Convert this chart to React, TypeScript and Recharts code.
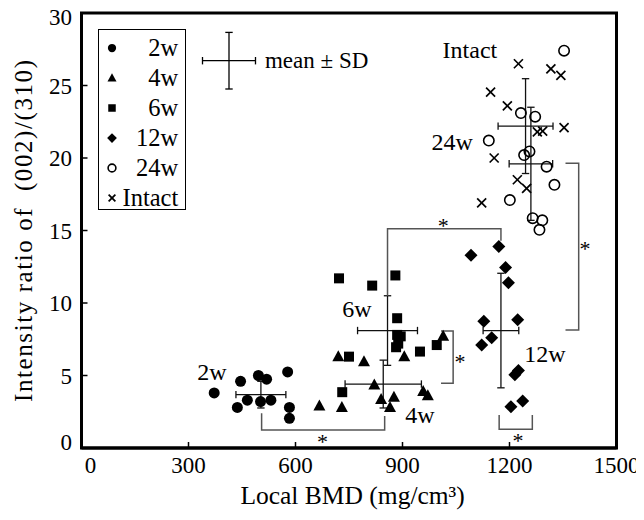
import {
  ScatterChart,
  Scatter,
  XAxis,
  YAxis,
  ErrorBar,
  ReferenceArea,
  Legend,
  Label,
} from "recharts";

const FONT = "'Liberation Serif', 'Times New Roman', serif";

// groups (weeks after implantation + intact bone)
const groups = ["2w", "4w", "6w", "12w", "24w", "Intact"];

const bmd2w = [372, 437, 446, 465, 496, 502, 519, 531, 578, 583, 583];
const ratio2w = [3.8, 2.8, 4.6, 3.3, 5.0, 3.2, 4.75, 3.3, 5.25, 2.8, 2.05];

const bmd4w = [667, 720, 730, 792, 821, 840, 865, 876, 905, 958, 971, 1014];
const ratio4w = [2.9, 6.3, 2.8, 5.95, 4.35, 3.35, 2.8, 3.5, 6.3, 3.9, 3.6, 7.7];

const bmd6w = [722, 731, 750, 815, 880, 882, 885, 885, 888, 895, 949, 996];
const ratio6w = [11.7, 3.85, 6.3, 11.2, 11.9, 6.95, 7.8, 8.95, 7.2, 7.7, 6.65, 7.1];

const bmd12w = [1092, 1122, 1128, 1150, 1170, 1189, 1197, 1204, 1215, 1223, 1225, 1237];
const ratio12w = [13.3, 7.1, 8.75, 7.6, 13.9, 12.45, 11.4, 2.85, 5.05, 8.85, 5.35, 3.25];

const bmd24w = [1142, 1201, 1232, 1241, 1256, 1265, 1272, 1284, 1292, 1304, 1326, 1353];
const ratio24w = [21.2, 17.1, 23.1, 20.2, 20.45, 15.85, 22.85, 15.05, 15.7, 19.4, 18.15, 27.4];

const bmdIntact = [1122, 1147, 1157, 1194, 1222, 1225, 1248, 1278, 1293, 1316, 1344, 1353];
const ratioIntact = [16.9, 24.55, 20.0, 23.6, 18.5, 26.5, 17.9, 21.8, 21.85, 26.15, 25.7, 22.1];

// mean ± SD per group
const meanBmd = [503, 846, 858, 1176, 1260, 1245];
const meanRatio = [3.68, 4.41, 8.1, 8.1, 19.6, 22.2];
const sdBmd = [70, 107, 84, 50, 61, 77];
const sdRatio = [0.92, 1.65, 2.4, 3.95, 3.9, 3.27];

// group tags written in the plot
const tagBmd = [366, 949, 772, 1299, 1039, 1089];
const tagRatio = [5.24, 2.28, 9.59, 6.48, 21.1, 27.45];

// significance brackets (polylines) and their stars
const bracketBmd = [
  [505, 505, 850, 850],
  [1008, 1042, 1042, 1008],
  [858, 858, 1176, 1176],
  [1171, 1171, 1264, 1264],
  [1357, 1394, 1394, 1357],
];
const bracketRatio = [
  [2.4, 1.25, 1.25, 2.2],
  [8.07, 8.07, 4.46, 4.46],
  [10.5, 15.12, 15.12, 14.3],
  [2.28, 1.29, 1.29, 2.28],
  [8.14, 8.14, 19.64, 19.64],
];
const starBmd = [676, 1061, 1014, 1224, 1412];
const starRatio = [0.67, 6.23, 15.6, 0.78, 14.0];

const xTicks = [0, 300, 600, 900, 1200, 1500];
const yTicks = [0, 5, 10, 15, 20, 25, 30];

const rawBmd = [bmd2w, bmd4w, bmd6w, bmd12w, bmd24w, bmdIntact];
const rawRatio = [ratio2w, ratio4w, ratio6w, ratio12w, ratio24w, ratioIntact];

type Kind = "dot" | "tri" | "square" | "diamond" | "ring" | "cross";
const kinds: Kind[] = ["dot", "tri", "square", "diamond", "ring", "cross"];

function Marker({ cx, cy, kind, s = 1 }: { cx: number; cy: number; kind: Kind; s?: number }) {
  switch (kind) {
    case "dot":
      return <circle cx={cx} cy={cy} r={5.5 * s} fill="#000" />;
    case "tri":
      return (
        <polygon
          points={`${cx},${cy - 6.5 * s} ${cx - 6 * s},${cy + 4.5 * s} ${cx + 6 * s},${cy + 4.5 * s}`}
          fill="#000"
        />
      );
    case "square":
      return <rect x={cx - 5 * s} y={cy - 5 * s} width={10 * s} height={10 * s} fill="#000" />;
    case "diamond":
      return (
        <polygon
          points={`${cx},${cy - 6.5 * s} ${cx + 6.5 * s},${cy} ${cx},${cy + 6.5 * s} ${cx - 6.5 * s},${cy}`}
          fill="#000"
        />
      );
    case "ring":
      return <circle cx={cx} cy={cy} r={5.2 * s} fill="none" stroke="#000" strokeWidth={1.6} />;
    default:
      return (
        <g stroke="#000" strokeWidth={1.7}>
          <line x1={cx - 4.5 * s} y1={cy - 4.5 * s} x2={cx + 4.5 * s} y2={cy + 4.5 * s} />
          <line x1={cx - 4.5 * s} y1={cy + 4.5 * s} x2={cx + 4.5 * s} y2={cy - 4.5 * s} />
        </g>
      );
  }
}

const seriesData = rawBmd.map((xs, g) => xs.map((x, i) => ({ x, y: rawRatio[g][i] })));
const meanData = meanBmd.map((x, i) => ({ x, y: meanRatio[i], ex: sdBmd[i], ey: sdRatio[i] }));
const tagData = tagBmd.map((x, i) => ({ x, y: tagRatio[i], text: groups[i] }));
const starData = starBmd.map((x, i) => ({ x, y: starRatio[i] }));
const bracketData = bracketBmd.map((xs, b) => xs.map((x, i) => ({ x, y: bracketRatio[b][i] })));

const noShape = () => <g />;

function XTick(props: any) {
  const { x, y, payload } = props;
  return (
    <text
      x={x + (payload.value === 0 ? 9 : 0)}
      y={y}
      dy="0.72em"
      textAnchor="middle"
      fontSize={23}
      fontFamily={FONT}
      fill="#000"
    >
      {payload.value}
    </text>
  );
}

function YTick(props: any) {
  const { x, y, payload } = props;
  return (
    <text x={x} y={y} dy={payload.value === 0 ? "0.1em" : "0.35em"} textAnchor="end" fontSize={23} fontFamily={FONT} fill="#000">
      {payload.value}
    </text>
  );
}

function XTitle() {
  return (
    <text x={344.6} y={496} textAnchor="middle" fontSize={25.5} fontFamily={FONT} fill="#000">
      Local BMD (mg/cm³)
    </text>
  );
}

function YTitle() {
  const cx = 15.4;
  const cy = 223;
  return (
    <text
      x={cx}
      y={cy}
      transform={`rotate(-90, ${cx}, ${cy})`}
      dy="0.33em"
      textAnchor="middle"
      fontSize={25}
      fontFamily={FONT}
      fill="#000"
      textLength={342}
      lengthAdjust="spacing"
    >
      {"Intensity ratio of \u00a0(002)/(310)"}
    </text>
  );
}

function LegendBox() {
  return (
    <div style={{ position: "relative", width: 300, height: 190, fontFamily: FONT, color: "#000" }}>
      <div
        style={{
          position: "absolute",
          left: 0,
          top: 0,
          width: 88,
          height: 181,
          border: "1.5px solid #000",
          boxSizing: "border-box",
        }}
      >
        {groups.map((g, i) => (
          <div key={g} style={{ position: "absolute", left: 0, right: 0, top: 2.4 + 30 * i, height: 30 }}>
            <svg width={20} height={30} style={{ position: "absolute", left: 2.4, top: 0 }}>
              <Marker cx={10} cy={15} kind={kinds[i]} s={0.75} />
            </svg>
            <span style={{ position: "absolute", right: 7, top: 0, fontSize: 24.5, lineHeight: "30px" }}>{g}</span>
          </div>
        ))}
      </div>
      <svg width={60} height={62} style={{ position: "absolute", left: 101, top: 1 }}>
        <g stroke="#000" strokeWidth={1.3}>
          <line x1={3.5} y1={30.7} x2={56.5} y2={30.7} />
          <line x1={3.5} y1={27} x2={3.5} y2={34.4} />
          <line x1={56.5} y1={27} x2={56.5} y2={34.4} />
          <line x1={30} y1={2.4} x2={30} y2={59} />
          <line x1={26.3} y1={2.4} x2={33.7} y2={2.4} />
          <line x1={26.3} y1={59} x2={33.7} y2={59} />
        </g>
      </svg>
      <span style={{ position: "absolute", left: 166.7, top: 16.7, fontSize: 23, lineHeight: "30px", whiteSpace: "nowrap" }}>
        mean ± SD
      </span>
    </div>
  );
}

export default function App() {
  return (
    <div style={{ width: 628, height: 504, fontFamily: FONT }}>
      <ScatterChart width={628} height={504} margin={{ top: 5, right: 19.5, bottom: 24, left: 13.5 }}>
        <XAxis
          type="number"
          dataKey="x"
          domain={[0, 1500]}
          ticks={xTicks}
          allowDataOverflow
          height={40}
          tickSize={-6}
          tickMargin={14}
          axisLine={{ stroke: "#000", strokeWidth: 3 }}
          tickLine={{ stroke: "#000", strokeWidth: 1.5 }}
          tick={XTick}
        >
          <Label content={XTitle} />
        </XAxis>
        <YAxis
          type="number"
          dataKey="y"
          domain={[0, 30]}
          ticks={yTicks}
          allowDataOverflow
          width={60}
          tickSize={-6}
          tickMargin={15.5}
          axisLine={{ stroke: "#000", strokeWidth: 3 }}
          tickLine={{ stroke: "#000", strokeWidth: 1.5 }}
          tick={YTick}
        >
          <Label content={YTitle} />
        </YAxis>
        <ReferenceArea x1={0} x2={1500} y1={0} y2={30} fill="none" stroke="#000" strokeWidth={3} ifOverflow="visible" />
        <Legend
          layout="vertical"
          align="center"
          verticalAlign="middle"
          content={() => <LegendBox />}
          wrapperStyle={{ left: 90.3, top: 21.3, width: 300, height: 190 }}
        />
        {bracketData.map((d, b) => (
          <Scatter
            key={`br${b}`}
            data={d}
            line={{ stroke: "#555", strokeWidth: 1.5 }}
            lineType="joint"
            shape={noShape}
            legendType="none"
            isAnimationActive={false}
          />
        ))}
        <Scatter data={meanData} shape={noShape} legendType="none" isAnimationActive={false}>
          <ErrorBar dataKey="ex" direction="x" width={3.7} stroke="#111" strokeWidth={1.3} />
          <ErrorBar dataKey="ey" direction="y" width={3.7} stroke="#111" strokeWidth={1.3} />
        </Scatter>
        {seriesData.map((d, g) => (
          <Scatter
            key={groups[g]}
            name={groups[g]}
            data={d}
            isAnimationActive={false}
            shape={(p: any) => <Marker cx={p.cx} cy={p.cy} kind={kinds[g]} />}
          />
        ))}
        <Scatter
          data={tagData}
          legendType="none"
          isAnimationActive={false}
          shape={(p: any) => (
            <text x={p.cx} y={p.cy} dy="0.35em" textAnchor="middle" fontSize={24} fontFamily={FONT} fill="#000">
              {p.payload.text}
            </text>
          )}
        />
        <Scatter
          data={starData}
          legendType="none"
          isAnimationActive={false}
          shape={(p: any) => (
            <text x={p.cx} y={p.cy} dy="0.5em" textAnchor="middle" fontSize={22} fontFamily={FONT} fill="#000">
              *
            </text>
          )}
        />
      </ScatterChart>
    </div>
  );
}
